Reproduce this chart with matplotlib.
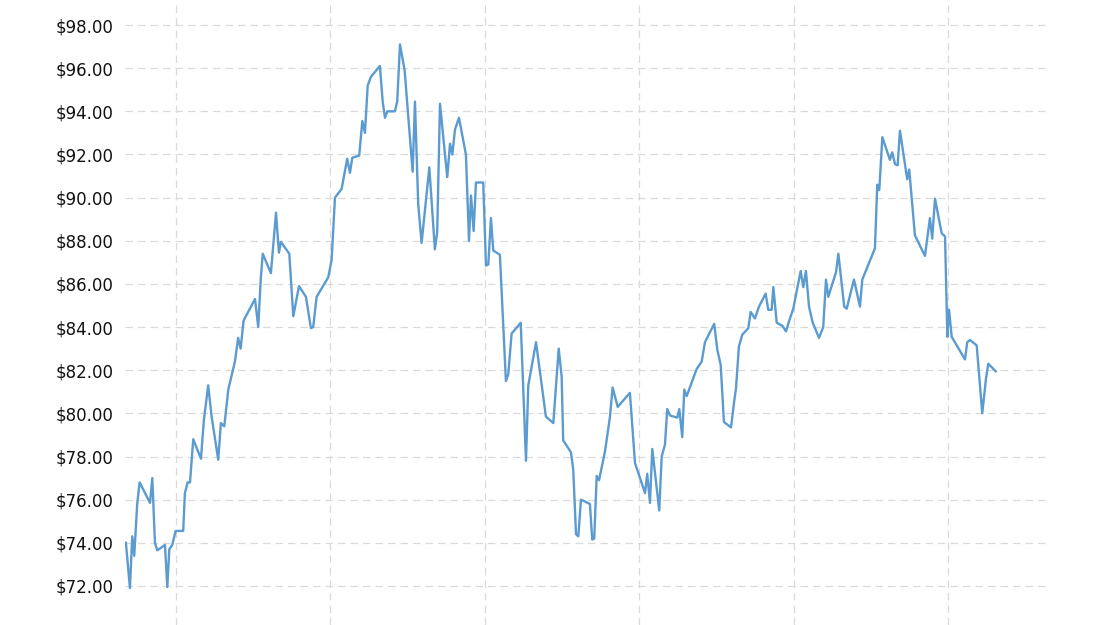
import matplotlib.pyplot as plt
from matplotlib.ticker import FuncFormatter

# decimal year of each observation
dates = [
    2018.676, 2018.702, 2018.717, 2018.730, 2018.749, 2018.765, 2018.832, 2018.847, 2018.864, 2018.879,
    2018.929, 2018.944, 2018.957, 2018.976, 2018.998, 2019.047, 2019.058, 2019.076, 2019.091, 2019.112,
    2019.162, 2019.181, 2019.209, 2019.231, 2019.274, 2019.291, 2019.313, 2019.339, 2019.382, 2019.403,
    2019.419, 2019.438, 2019.512, 2019.533, 2019.549, 2019.562, 2019.615, 2019.648, 2019.667, 2019.680,
    2019.734, 2019.760, 2019.797, 2019.842, 2019.874, 2019.889, 2019.911, 2019.986, 2020.008, 2020.030,
    2020.073, 2020.109, 2020.127, 2020.142, 2020.187, 2020.207, 2020.224, 2020.242, 2020.263, 2020.321,
    2020.339, 2020.354, 2020.369, 2020.418, 2020.433, 2020.451, 2020.481, 2020.533, 2020.548, 2020.569,
    2020.591, 2020.641, 2020.677, 2020.692, 2020.710, 2020.757, 2020.775, 2020.790, 2020.807, 2020.833,
    2020.878, 2020.898, 2020.911, 2020.928, 2020.943, 2020.990, 2021.008, 2021.023, 2021.040, 2021.055,
    2021.098, 2021.120, 2021.137, 2021.152, 2021.174, 2021.233, 2021.267, 2021.282, 2021.332, 2021.396,
    2021.444, 2021.479, 2021.498, 2021.508, 2021.558, 2021.573, 2021.591, 2021.606, 2021.623, 2021.681,
    2021.696, 2021.709, 2021.725, 2021.740, 2021.779, 2021.811, 2021.828, 2021.861, 2021.940, 2021.973,
    2022.038, 2022.052, 2022.070, 2022.085, 2022.130, 2022.146, 2022.167, 2022.182, 2022.200, 2022.247,
    2022.260, 2022.279, 2022.292, 2022.308, 2022.372, 2022.405, 2022.426, 2022.486, 2022.506, 2022.528,
    2022.549, 2022.595, 2022.616, 2022.627, 2022.646, 2022.668, 2022.707, 2022.722, 2022.750, 2022.776,
    2022.819, 2022.836, 2022.858, 2022.869, 2022.891, 2022.929, 2022.951, 2022.972, 2022.998, 2023.046,
    2023.063, 2023.080, 2023.100, 2023.124, 2023.165, 2023.192, 2023.210, 2023.225, 2023.275, 2023.290,
    2023.328, 2023.344, 2023.391, 2023.430, 2023.445, 2023.527, 2023.542, 2023.555, 2023.575, 2023.624,
    2023.639, 2023.657, 2023.674, 2023.689, 2023.736, 2023.749, 2023.786, 2023.851, 2023.883, 2023.898,
    2023.916, 2023.959, 2023.981, 2023.996, 2024.007, 2024.024, 2024.110, 2024.125, 2024.143, 2024.186,
    2024.222, 2024.246, 2024.261, 2024.309,
]

prices = [
    74.0, 71.9, 74.3, 73.4, 75.8, 76.8, 75.85, 77.0, 74.0, 73.65,
    73.9, 71.95, 73.7, 73.9, 74.55, 74.55, 76.3, 76.8, 76.8, 78.8,
    77.9, 79.7, 81.3, 79.85, 77.85, 79.55, 79.4, 81.1, 82.4, 83.5,
    83.0, 84.3, 85.3, 84.0, 86.2, 87.4, 86.5, 89.3, 87.45, 87.95,
    87.4, 84.5, 85.9, 85.4, 83.95, 84.0, 85.4, 86.3, 87.1, 90.0,
    90.4, 91.8, 91.15, 91.85, 91.95, 93.55, 93.0, 95.2, 95.6, 96.1,
    94.45, 93.7, 94.0, 94.0, 94.45, 97.1, 95.9, 91.2, 94.45, 89.7,
    87.9, 91.4, 87.6, 88.4, 94.35, 90.95, 92.5, 92.0, 93.15, 93.7,
    92.0, 88.0, 90.1, 88.45, 90.7, 90.7, 86.85, 86.9, 89.05, 87.55,
    87.35, 84.0, 81.5, 81.8, 83.7, 84.2, 77.8, 81.3, 83.3, 79.85,
    79.55, 83.0, 81.7, 78.75, 78.2, 77.4, 74.4, 74.3, 76.0, 75.8,
    74.15, 74.2, 77.1, 76.9, 78.25, 79.85, 81.2, 80.3, 80.95, 77.7,
    76.3, 77.2, 75.85, 78.35, 75.5, 78.0, 78.55, 80.2, 79.9, 79.8,
    80.2, 78.9, 81.1, 80.8, 82.05, 82.4, 83.3, 84.15, 82.95, 82.25,
    79.6, 79.35, 80.6, 81.15, 83.1, 83.65, 83.95, 84.7, 84.4, 84.95,
    85.55, 84.8, 84.8, 85.85, 84.2, 84.05, 83.8, 84.3, 84.85, 86.6,
    85.85, 86.6, 84.95, 84.2, 83.5, 84.0, 86.2, 85.4, 86.55, 87.4,
    84.95, 84.85, 86.2, 84.95, 86.2, 87.65, 90.6, 90.35, 92.8, 91.75,
    92.1, 91.55, 91.5, 93.1, 90.85, 91.3, 88.25, 87.3, 89.05, 88.1,
    89.95, 88.35, 88.2, 83.55, 84.8, 83.55, 82.5, 83.3, 83.4, 83.15,
    80.0, 81.6, 82.3, 81.95,
]

year_ticks = [2019, 2020, 2021, 2022, 2023, 2024]
price_ticks = [72, 74, 76, 78, 80, 82, 84, 86, 88, 90, 92, 94, 96, 98]

fig = plt.figure(figsize=(11.1, 6.25), dpi=100)
ax = fig.add_axes([0.1126, 0.0, 0.8306, 1.0])

ax.plot(dates, prices, color="#5b9bd0", linewidth=1.7)

ax.set_xlim(2018.670, 2024.641)
ax.set_ylim(70.19, 99.16)
ax.set_xticks(year_ticks)
ax.set_xticklabels([])
ax.set_yticks(price_ticks)
ax.yaxis.set_major_formatter(FuncFormatter(lambda v, p: "${:.2f}".format(v)))
ax.tick_params(axis="both", length=0, labelsize=12, pad=8, labelcolor="#111111")

ax.grid(True, color="#dadada", linewidth=0.9, linestyle=(0, (6, 4)))
for s in ax.spines.values():
    s.set_visible(False)

fig.savefig("out.png", dpi=100)
